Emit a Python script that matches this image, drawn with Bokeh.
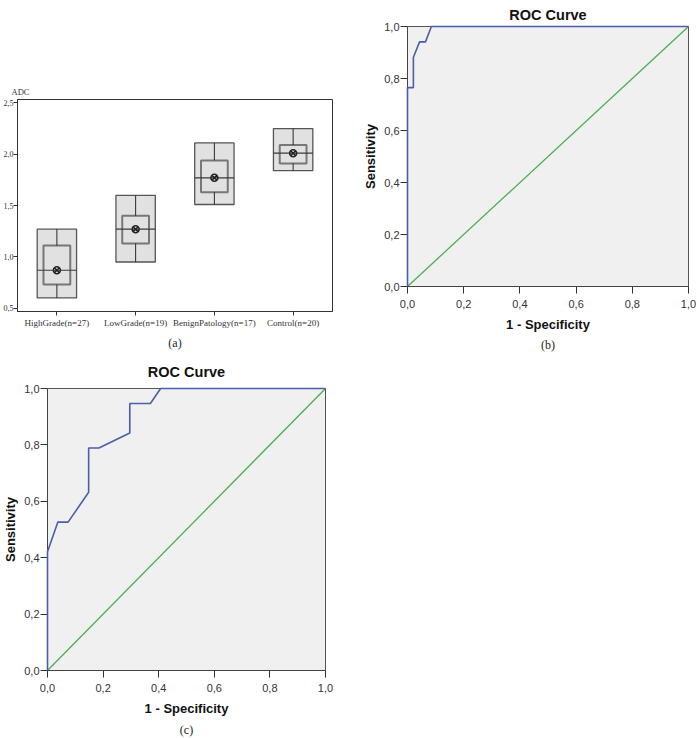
from bokeh.plotting import figure
from bokeh.models import (Range1d, FactorRange, Title, CustomJSTickFormatter,
                          FixedTicker, ColumnDataSource)
from bokeh.layouts import row, column
from bokeh.transform import dodge
from bokeh.embed import file_html
from bokeh.resources import INLINE

# ---------------- data ----------------
# (a) ADC box chart
categories = ["HighGrade(n=27)", "LowGrade(n=19)", "BenignPatology(n=17)", "Control(n=20)"]
outer_low = [0.60, 0.95, 1.51, 1.84]
inner_low = [0.73, 1.13, 1.63, 1.91]
medians = [0.87, 1.27, 1.77, 2.01]
means = [0.87, 1.27, 1.77, 2.01]
inner_high = [1.11, 1.40, 1.94, 2.09]
outer_high = [1.27, 1.60, 2.11, 2.25]
adc_ticks = [0.5, 1.0, 1.5, 2.0, 2.5]

# (b) ROC curve
fpr_b = [0.0, 0.0, 0.021, 0.021, 0.043, 0.064, 0.085, 1.0]
tpr_b = [0.0, 0.765, 0.765, 0.882, 0.941, 0.941, 1.0, 1.0]

# (c) ROC curve
fpr_c = [0.0, 0.0, 0.037, 0.074, 0.148, 0.148, 0.185, 0.296, 0.296, 0.370, 0.407, 1.0]
tpr_c = [0.0, 0.421, 0.526, 0.526, 0.632, 0.789, 0.789, 0.842, 0.947, 0.947, 1.0, 1.0]

# reference line
diag_x = [0.0, 1.0]
diag_y = [0.0, 1.0]
roc_ticks = [0.0, 0.2, 0.4, 0.6, 0.8, 1.0]

comma_fmt = "return tick.toFixed(1).replace('.', ',');"
SERIF = "Liberation Serif"
SANS = "Liberation Sans"

# ---------------- (a) ----------------
src = ColumnDataSource(dict(cat=categories, olo=outer_low, ilo=inner_low, med=medians,
                            mean=means, ihi=inner_high, ohi=outer_high))
pa = figure(width=350, height=352, x_range=FactorRange(*categories),
            y_range=Range1d(0.468, 2.533), output_backend="svg", toolbar_location=None,
            min_border_left=15, min_border_right=18, min_border_top=99, min_border_bottom=37)
pa.grid.visible = False
pa.outline_line_color = "#333333"
pa.outline_line_width = 1
pa.background_fill_color = "white"

pa.vbar(x="cat", width=0.5, bottom="olo", top="ohi", source=src,
        fill_color="#e1e1e1", line_color="#555555", line_width=1.3)
pa.vbar(x="cat", width=0.34, bottom="ilo", top="ihi", source=src,
        fill_color="#e1e1e1", line_color="#777777", line_width=2)
pa.segment(x0="cat", y0="ohi", x1="cat", y1="ihi", source=src, line_color="#2a2a2a", line_width=1)
pa.segment(x0="cat", y0="ilo", x1="cat", y1="olo", source=src, line_color="#2a2a2a", line_width=1)
pa.segment(x0=dodge("cat", -0.25, range=pa.x_range), y0="med",
           x1=dodge("cat", 0.25, range=pa.x_range), y1="med", source=src,
           line_color="#3a3a3a", line_width=1.2)
pa.scatter(x="cat", y="mean", source=src, marker="circle_x", size=7,
           fill_color=None, line_color="#222222", line_width=1.5)

pa.yaxis.ticker = FixedTicker(ticks=adc_ticks)
pa.yaxis.formatter = CustomJSTickFormatter(code=comma_fmt)
for ax in (pa.xaxis[0], pa.yaxis[0]):
    ax.axis_line_color = "#333333"
    ax.major_tick_line_color = "#333333"
    ax.major_tick_out = 4
    ax.major_tick_in = 0
    ax.minor_tick_line_color = None
    ax.major_label_text_font = SERIF
    ax.major_label_text_color = "#333333"
pa.xaxis.major_label_text_font_size = "9px"
pa.yaxis.major_label_text_font_size = "8px"
pa.xaxis.major_label_standoff = 2
pa.yaxis.major_label_standoff = 0

pa.add_layout(Title(text="ADC", align="left", offset=-6, standoff=6,
                    text_font=SERIF, text_font_size="8.5px", text_font_style="normal",
                    text_color="#333333"), "above")
pa.add_layout(Title(text="(a)", align="center", standoff=6,
                    text_font=SERIF, text_font_size="12px", text_font_style="normal",
                    text_color="#222222"), "below")


# ---------------- ROC helper ----------------
def roc_figure(fpr, tpr, caption, width, height, mbl, mbr, mbt, mbb,
               title_standoff, caption_standoff):
    p = figure(width=width, height=height, x_range=Range1d(0, 1), y_range=Range1d(0, 1),
               output_backend="svg", toolbar_location=None,
               min_border_left=mbl, min_border_right=mbr,
               min_border_top=mbt, min_border_bottom=mbb)
    p.title.text = "ROC Curve"
    p.title.align = "center"
    p.title.text_font = SANS
    p.title.text_font_size = "14.5px"
    p.title.text_font_style = "bold"
    p.title.text_color = "#111111"
    p.title.standoff = title_standoff
    p.grid.visible = False
    p.background_fill_color = "#f0f0f0"
    p.outline_line_color = "#555555"
    p.outline_line_width = 1

    p.line(diag_x, diag_y, line_color="#4caf50", line_width=1.3)
    p.line(fpr, tpr, line_color="#4a5fa8", line_width=1.6, level="overlay")

    for ax in (p.xaxis[0], p.yaxis[0]):
        ax.ticker = FixedTicker(ticks=roc_ticks)
        ax.formatter = CustomJSTickFormatter(code=comma_fmt)
        ax.axis_line_color = "#444444"
        ax.major_tick_line_color = "#333333"
        ax.major_tick_out = 7
        ax.major_tick_in = 0
        ax.minor_tick_line_color = None
        ax.major_label_text_font = SANS
        ax.major_label_text_font_size = "11px"
        ax.major_label_text_color = "#333333"
        ax.axis_label_text_font = SANS
        ax.axis_label_text_font_size = "13px"
        ax.axis_label_text_font_style = "bold"
        ax.axis_label_text_color = "#111111"
    p.xaxis.axis_label = "1 - Specificity"
    p.yaxis.axis_label = "Sensitivity"
    p.xaxis.major_label_standoff = 6
    p.yaxis.major_label_standoff = 1
    p.xaxis.axis_label_standoff = 6
    p.yaxis.axis_label_standoff = 3
    p.add_layout(Title(text=caption, align="center", standoff=caption_standoff,
                       text_font=SERIF, text_font_size="12px", text_font_style="normal",
                       text_color="#222222"), "below")
    return p


pb = roc_figure(fpr_b, tpr_b, "(b)", 346, 352, 57, 8, 26, 40, 8, 2)
pc = roc_figure(fpr_c, tpr_c, "(c)", 350, 386, 44, 25, 36, 40, 18, 4)

layout = column(row(column(pa), column(pb)), column(pc))
open("out.html", "w").write(file_html(layout, INLINE))
